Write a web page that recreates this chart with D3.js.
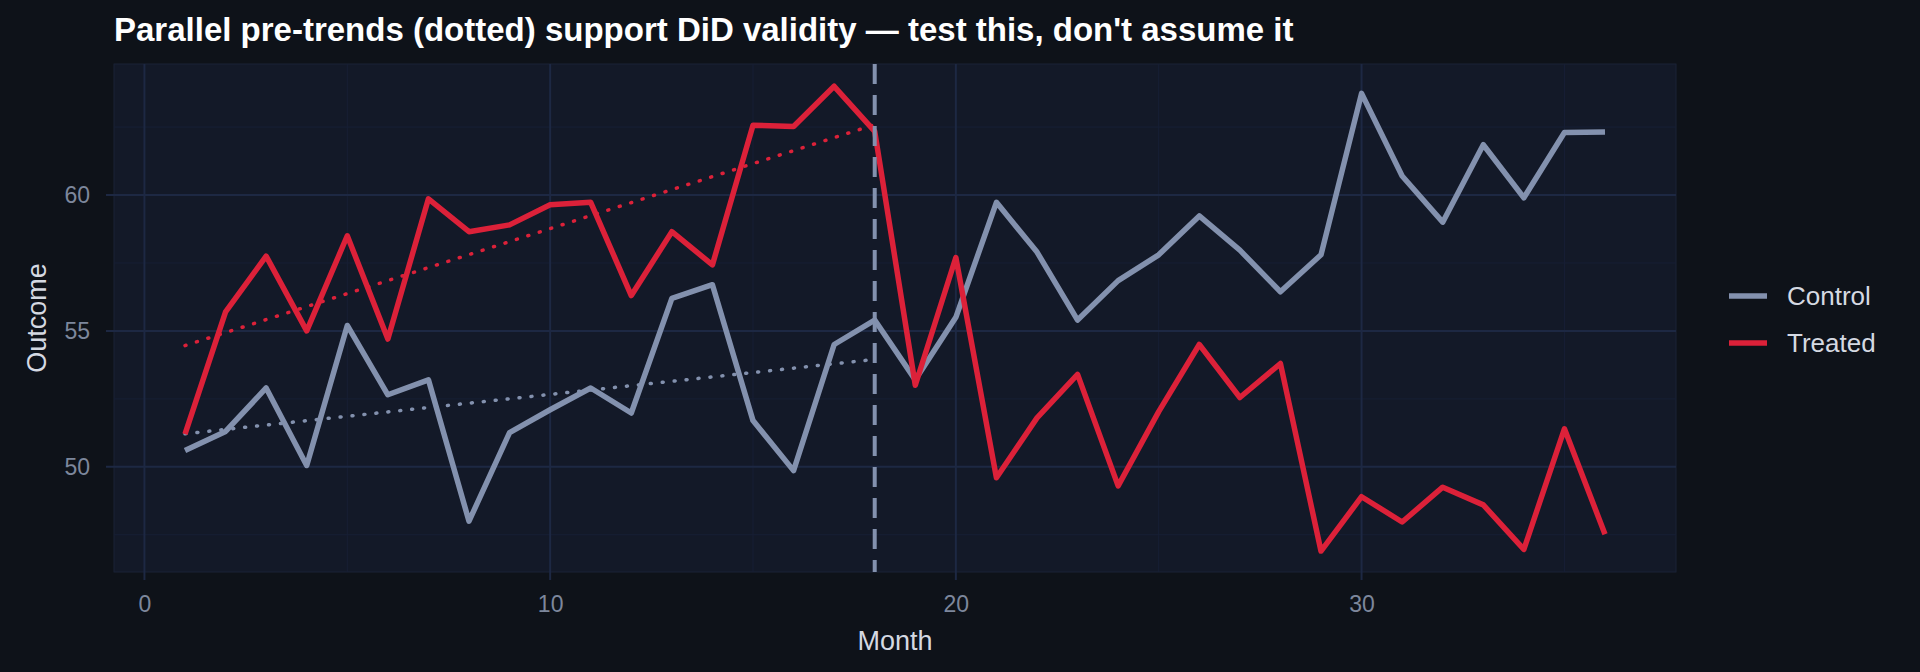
<!DOCTYPE html>
<html lang="en">
<head>
<meta charset="UTF-8">
<title>DiD pre-trends</title>
<script src="https://d3js.org/d3.v7.min.js"></script>
<style>
  body { margin: 0; background: #0e1219; }
  svg text { font-family: "Liberation Sans", Arial, sans-serif; }
</style>
</head>
<body>
<svg id="chart" width="1920" height="672"></svg>
<script>
// values, months 1..36
var control = [50.6,51.3,52.9,50.05,55.2,52.65,53.2,48.0,51.26,52.1,52.9,51.98,56.2,56.7,51.7,49.86,54.5,55.4,
               53.2,55.5,59.73,57.9,55.4,56.85,57.8,59.23,57.97,56.44,57.8,63.74,60.7,59.0,61.85,59.9,62.3,62.32];
var treated = [51.2,55.7,57.75,55.0,58.5,54.7,59.86,58.65,58.9,59.64,59.73,56.3,58.65,57.43,62.57,62.52,64.0,62.34,
               53.0,57.7,49.6,51.8,53.4,49.3,52.03,54.5,52.55,53.8,46.9,48.9,47.97,49.25,48.6,46.96,51.4,47.52];
var treatMonth = 18;

var series = [
  { name: "Control", color: "#8391ae", values: control },
  { name: "Treated", color: "#dc2139", values: treated }
];

var svg = d3.select("#chart");
var L = 114, R = 1676, T = 64, B = 572;

var x = d3.scaleLinear().domain([-0.75, 37.75]).range([L, R]);
var y = d3.scaleLinear().domain([46.13, 64.82]).range([B, T]);

svg.append("rect").attr("width", 1920).attr("height", 672).attr("fill", "#0e1219");
svg.append("rect").attr("x", L).attr("y", T).attr("width", R - L).attr("height", B - T).attr("fill", "#131928")
  .attr("stroke", "#1a2236").attr("stroke-width", 1);

// grid
var g = svg.append("g");
[5, 15, 25, 35].forEach(function (v) {
  g.append("line").attr("x1", x(v)).attr("x2", x(v)).attr("y1", T).attr("y2", B).attr("stroke", "#171f35").attr("stroke-width", 1);
});
[47.5, 52.5, 57.5, 62.5].forEach(function (v) {
  g.append("line").attr("x1", L).attr("x2", R).attr("y1", y(v)).attr("y2", y(v)).attr("stroke", "#171f35").attr("stroke-width", 1);
});
[0, 10, 20, 30].forEach(function (v) {
  g.append("line").attr("x1", x(v)).attr("x2", x(v)).attr("y1", T).attr("y2", B + 8).attr("stroke", "#1d2843").attr("stroke-width", 2);
});
[50, 55, 60].forEach(function (v) {
  g.append("line").attr("x1", L - 8).attr("x2", R).attr("y1", y(v)).attr("y2", y(v)).attr("stroke", "#1d2843").attr("stroke-width", 2);
});

// axes
var xAxis = svg.append("g").attr("transform", "translate(0," + B + ")")
  .call(d3.axisBottom(x).tickValues([0, 10, 20, 30]).tickSize(0).tickPadding(24));
var yAxis = svg.append("g").attr("transform", "translate(" + L + ",0)")
  .call(d3.axisLeft(y).tickValues([50, 55, 60]).tickSize(0).tickPadding(24));
[xAxis, yAxis].forEach(function (a) {
  a.select(".domain").remove();
  a.selectAll("text").attr("fill", "#7d879c").style("font-size", "23px");
});

// pre-period linear trends (least squares on months 1..18)
function fit(vals) {
  var pts = vals.slice(0, treatMonth).map(function (v, i) { return [i + 1, v]; });
  var mx = d3.mean(pts, function (p) { return p[0]; }), my = d3.mean(pts, function (p) { return p[1]; });
  var b = d3.sum(pts, function (p) { return (p[0] - mx) * (p[1] - my); }) / d3.sum(pts, function (p) { return (p[0] - mx) * (p[0] - mx); });
  return [[1, my + b * (1 - mx)], [treatMonth, my + b * (treatMonth - mx)]];
}

var line = d3.line().x(function (d) { return x(d[0]); }).y(function (d) { return y(d[1]); });

series.forEach(function (s) {
  svg.append("path").datum(fit(s.values)).attr("d", line).attr("fill", "none")
    .attr("stroke", s.color).attr("stroke-width", 3.5).attr("stroke-dasharray", "1,11").attr("stroke-linecap", "round");
});

series.forEach(function (s) {
  svg.append("path").datum(s.values.map(function (v, i) { return [i + 1, v]; })).attr("d", line)
    .attr("fill", "none").attr("stroke", s.color).attr("stroke-width", 5.5).attr("stroke-linejoin", "round");
});

// treatment start
svg.append("line").attr("x1", x(treatMonth)).attr("x2", x(treatMonth)).attr("y1", T).attr("y2", B)
  .attr("stroke", "#8391ae").attr("stroke-width", 4).attr("stroke-dasharray", "20,11");

// titles
svg.append("text").attr("x", L).attr("y", 41).attr("fill", "#ffffff").style("font-size", "33px").style("font-weight", "bold")
  .text("Parallel pre-trends (dotted) support DiD validity \u2014 test this, don't assume it");
svg.append("text").attr("x", (L + R) / 2).attr("y", 650).attr("text-anchor", "middle").attr("fill", "#d5d9e2").style("font-size", "27px").text("Month");
svg.append("text").attr("transform", "translate(46," + ((T + B) / 2) + ") rotate(-90)").attr("text-anchor", "middle")
  .attr("fill", "#d5d9e2").style("font-size", "27px").text("Outcome");

// legend
series.forEach(function (s, i) {
  var ly = 296 + i * 47;
  svg.append("line").attr("x1", 1729).attr("x2", 1767).attr("y1", ly).attr("y2", ly).attr("stroke", s.color).attr("stroke-width", 5.5);
  svg.append("text").attr("x", 1787).attr("y", ly + 9).attr("fill", "#d5d9e2").style("font-size", "26px").text(s.name);
});
</script>
</body>
</html>
